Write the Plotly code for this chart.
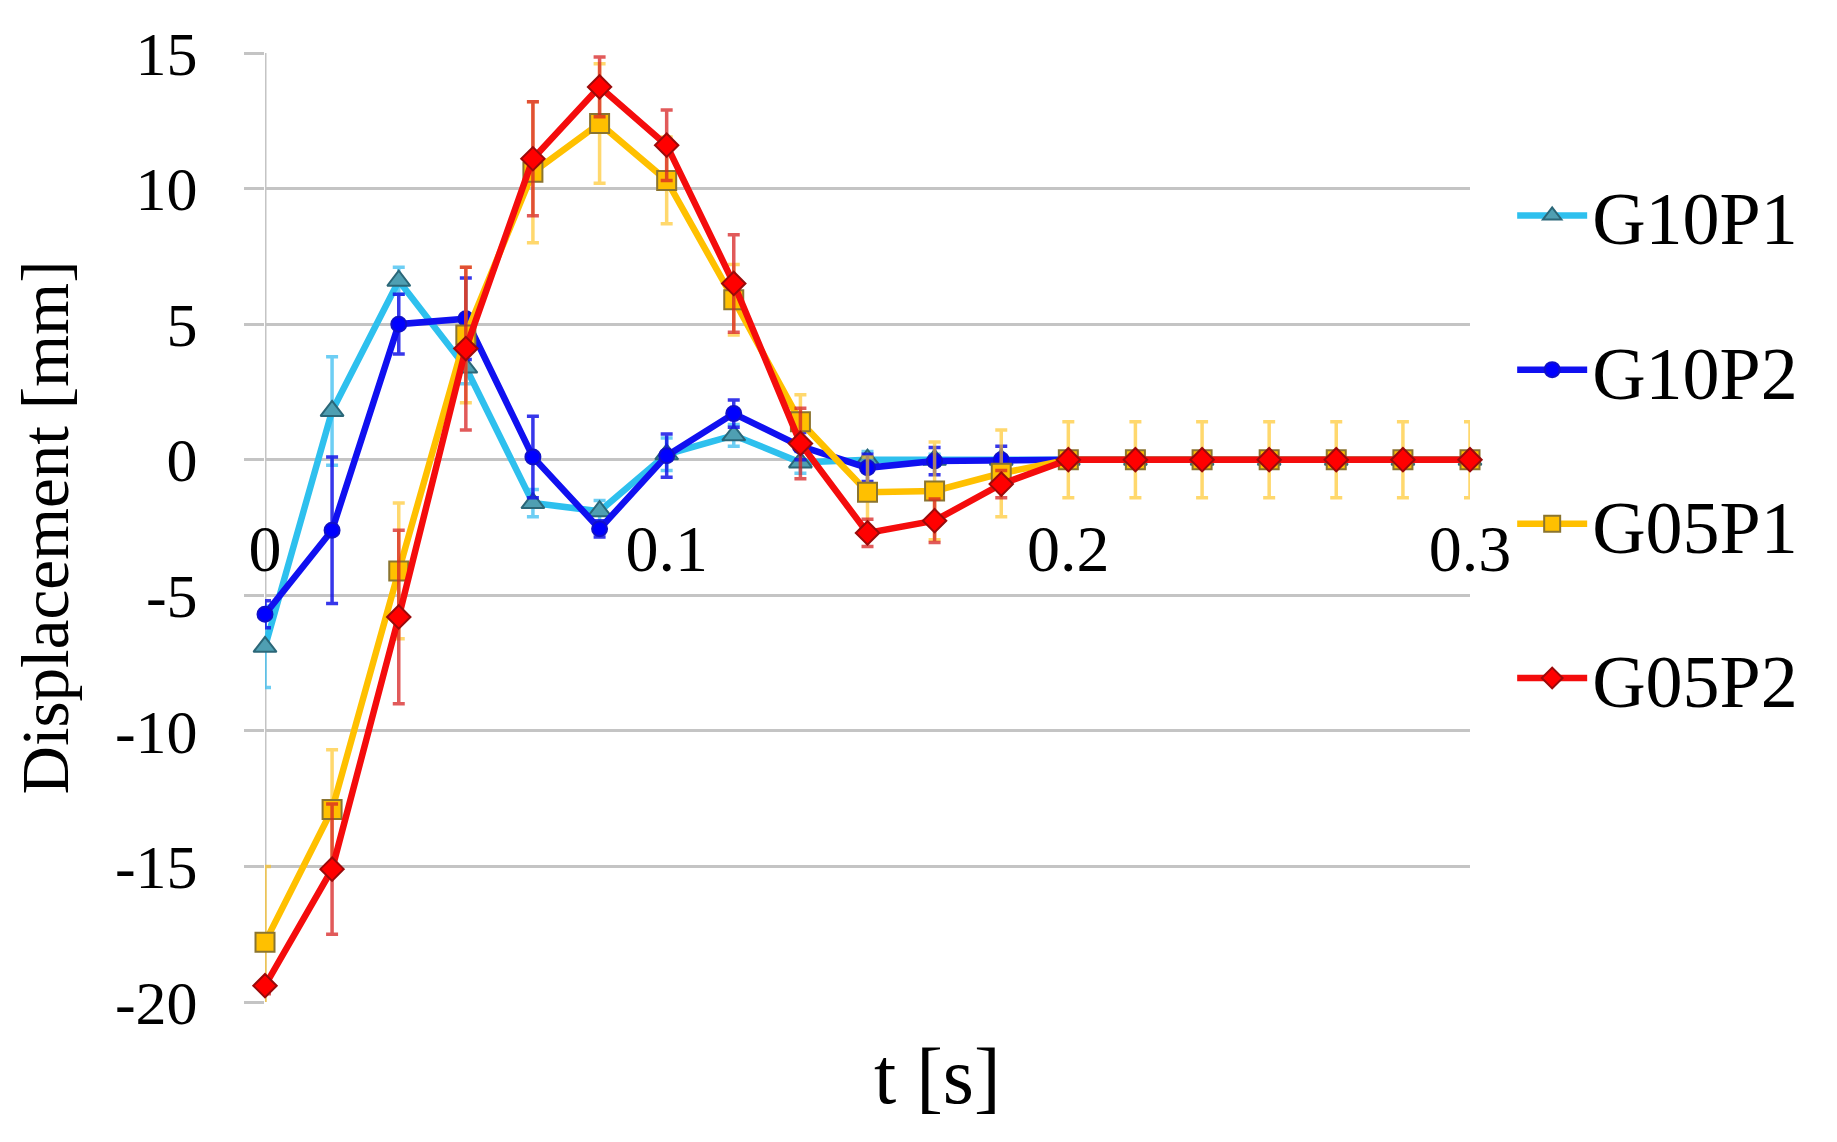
import plotly.graph_objects as go

T = [0.0, 0.0167, 0.0333, 0.05, 0.0667, 0.0833, 0.1, 0.1167, 0.1333, 0.15,
     0.1667, 0.1833, 0.2, 0.2167, 0.2333, 0.25, 0.2667, 0.2833, 0.3]

G10P1 = [-6.9, 1.8, 6.6, 3.4, -1.6, -1.9, 0.2, 0.9, -0.1, 0.0,
         0.0, 0.0, 0.0, 0.0, 0.0, 0.0, 0.0, 0.0, 0.0]
G10P1_err = [1.5, 2.0, 0.5, 0.6, 0.5, 0.4, 0.6, 0.4, 0.4, 0.3,
             0.2, 0.1, 0.0, 0.0, 0.0, 0.0, 0.0, 0.0, 0.0]

G10P2 = [-5.7, -2.6, 5.0, 5.2, 0.1, -2.55, 0.15, 1.7, 0.5, -0.3,
         -0.05, 0.0, 0.0, 0.0, 0.0, 0.0, 0.0, 0.0, 0.0]
G10P2_err = [0.5, 2.7, 1.1, 1.5, 1.5, 0.3, 0.8, 0.5, 0.5, 0.5,
             0.5, 0.5, 0.0, 0.0, 0.0, 0.0, 0.0, 0.0, 0.0]

G05P1 = [-17.8, -12.9, -4.1, 4.6, 10.6, 12.4, 10.3, 5.9, 1.4, -1.2,
         -1.15, -0.5, 0.0, 0.0, 0.0, 0.0, 0.0, 0.0, 0.0]
G05P1_err = [2.8, 2.2, 2.5, 2.5, 2.6, 2.2, 1.6, 1.3, 1.0, 1.3,
             1.8, 1.6, 1.4, 1.4, 1.4, 1.4, 1.4, 1.4, 1.4]

G05P2 = [-19.4, -15.1, -5.8, 4.1, 11.1, 13.75, 11.6, 6.5, 0.6, -2.7,
         -2.25, -0.9, 0.0, 0.0, 0.0, 0.0, 0.0, 0.0, 0.0]
G05P2_err = [0.3, 2.4, 3.2, 3.0, 2.1, 1.1, 1.3, 1.8, 1.3, 0.5,
             0.8, 0.5, 0.0, 0.0, 0.0, 0.0, 0.0, 0.0, 0.0]

Y_TICKS = [15, 10, 5, 0, -5, -10, -15, -20]
Y_TICK_TEXT = ["15", "10", "5", "0", "-5", "-10", "-15", "-20"]
X_TICKS = [0, 0.1, 0.2, 0.3]
X_TICK_TEXT = ["0", "0.1", "0.2", "0.3"]

YMIN, YMAX = -20, 15
XMIN, XMAX = 0, 0.3

FONT = "Liberation Serif, Times New Roman, serif"

series = [
    ("G10P1", G10P1, G10P1_err, "#2EC0EE", "triangle-up", 20, "#4F9FB2", "#2B6778", "rgba(60,190,240,0.75)"),
    ("G10P2", G10P2, G10P2_err, "#1010F0", "circle", 15, "#0000FF", "#1010C8", "rgba(20,20,230,0.85)"),
    ("G05P1", G05P1, G05P1_err, "#FFC000", "square", 19, "#FFC000", "#8A7430", "rgba(255,195,30,0.65)"),
    ("G05P2", G05P2, G05P2_err, "#F40C0C", "diamond", 18, "#FF0000", "#9A0A0A", "rgba(215,35,35,0.75)"),
]

fig = go.Figure()
for i, (name, ys, errs, lc, sym, ms, mfill, mline, ecol) in enumerate(series):
    fig.add_trace(go.Scatter(
        x=T, y=ys, name=name, mode="lines+markers",
        line=dict(color=lc, width=6.5),
        marker=dict(symbol=sym, size=ms, color=mfill, line=dict(color=mline, width=2)),
        error_y=dict(type="data", array=errs, visible=True, color=ecol, thickness=3.5, width=6),
        cliponaxis=False, legendgroup=name,
    ))

xpos = (0 - YMIN) / (YMAX - YMIN)

fig.update_layout(
    width=1837, height=1142,
    margin=dict(l=257, r=375, t=45, b=148),
    paper_bgcolor="white", plot_bgcolor="white",
    font=dict(family=FONT, color="black"),
    showlegend=True,
    legend=dict(x=1.035, y=0.585, xanchor="left", yanchor="middle",
                font=dict(family=FONT, size=74), itemwidth=70,
                tracegroupgap=55, bgcolor="rgba(0,0,0,0)"),
    xaxis=dict(range=[XMIN, XMAX], anchor="free", position=xpos,
               tickmode="array", tickvals=X_TICKS, ticktext=X_TICK_TEXT,
               tickfont=dict(family=FONT, size=66), ticks="", showline=False,
               showgrid=False, zeroline=False, ticklabelstandoff=44),
    yaxis=dict(range=[YMIN, YMAX], tickmode="array", tickvals=Y_TICKS, ticktext=Y_TICK_TEXT,
               tickfont=dict(family=FONT, size=62), ticks="outside", ticklen=20,
               tickwidth=3, tickcolor="#C4C4C4",
               showgrid=True, gridcolor="#C4C4C4", gridwidth=3,
               showline=False, zeroline=False, ticklabelstandoff=34,
               title=dict(text="Displacement [mm]", font=dict(family=FONT, size=67), standoff=30)),
    shapes=[dict(type="line", xref="x", yref="paper", x0=0, x1=0, y0=0, y1=1,
                 line=dict(color="#C4C4C4", width=3), layer="below")],
    annotations=[dict(text="t [s]", xref="paper", yref="paper", x=0.5577, y=-0.078,
                      xanchor="center", yanchor="middle", showarrow=False,
                      font=dict(family=FONT, size=80))],
)

fig.write_html("out.html")
